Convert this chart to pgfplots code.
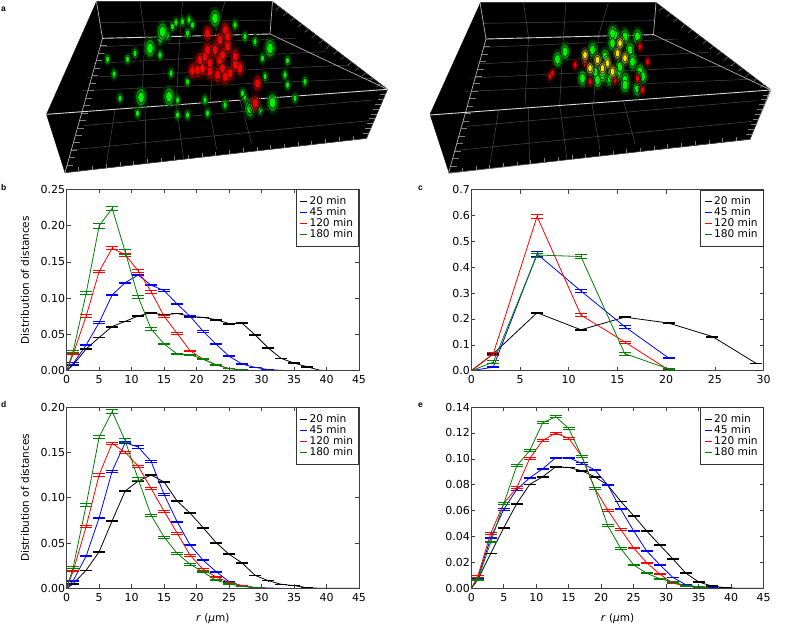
\documentclass[border=0pt]{standalone}
\usepackage{pgfplots}
\usepackage{pgfplotstable}
\usepackage{fontspec}
\setmainfont{DejaVu Sans}
\newfontfamily\letterfont{Liberation Sans}
\pgfplotsset{compat=1.18}

% panel a, in reference pixels times (2,3)
\pgfplotstableread{
x y
205 115
130 518
nan nan
193 5
205 115
nan nan
540 102
545 5
nan nan
540 102
775 268
}\edges
\pgfplotstableread{
x y
93 343
775 268
nan nan
205 115
540 102
}\bright
\pgfplotstableread{
x y
167 377
745 300
nan nan
140 450
738 362
nan nan
200 140
590 115
nan nan
187 190
650 155
nan nan
175 232
700 195
nan nan
165 272
745 235
nan nan
199 68
542 60
nan nan
230 330
213 490
nan nan
290 320
292 488
nan nan
353 320
367 475
nan nan
417 310
433 448
nan nan
480 300
503 430
nan nan
290 110
283 315
nan nan
360 105
352 320
nan nan
430 105
420 310
nan nan
280 5
290 110
nan nan
365 5
360 105
nan nan
450 5
430 105
nan nan
545 5
775 268
nan nan
130 518
733 415
nan nan
733 415
775 268
}\gridl
\pgfplotstableread[row sep=\\]{
x y\\ 201 137\\ 197 160\\ 192 182\\ 188 205\\ 184 227\\ 180 249\\ 176 272\\ 172 294\\ 167 317\\ 163 339\\ 159 361\\ 155 384\\ 151 406\\ 147 428\\ 142 451\\ 138 473\\ 134 496\\
}\ticksleft
\pgfplotstableread[row sep=\\]{
x y\\ 157 513\\ 185 509\\ 212 504\\ 240 499\\ 267 495\\ 294 490\\ 322 485\\ 349 481\\ 377 476\\ 404 471\\ 431 467\\ 459 462\\ 486 457\\ 514 453\\ 541 448\\ 568 443\\ 596 438\\ 623 434\\ 651 429\\ 678 424\\ 706 420\\
}\ticksbottom
\pgfplotstableread[row sep=\\]{
x y\\ 771 283\\ 767 297\\ 762 312\\ 758 327\\ 754 342\\ 750 356\\ 746 371\\ 741 386\\ 737 400\\
}\ticksright
\pgfplotstableread[row sep=\\]{
x y\\ 559 21\\ 574 38\\ 588 54\\ 603 71\\ 617 87\\ 631 104\\ 646 120\\ 660 136\\ 675 153\\ 689 169\\ 703 186\\ 718 202\\ 732 218\\ 746 235\\ 761 251\\
}\tickstop
\pgfplotstableread{
x y
365 65
345 80
375 100
385 75
352 68
378 60
300 145
320 120
335 108
255 178
215 178
228 222
342 220
355 345
520 330
575 182
610 245
590 295
525 175
510 125
490 110
450 315
415 340
375 345
275 340
240 295
485 280
530 230
570 225
575 255
375 245
270 160
320 165
490 295
410 300
355 300
470 75
}\leftgreen
\pgfplotstableread{
x y
282 292
338 290
500 325
545 308
300 145
325 95
540 145
430 55
}\leftbig
\pgfplotstableread{
x y
415 100
450 90
440 120
455 110
455 140
410 170
430 150
470 170
395 210
420 190
445 205
480 205
460 220
400 180
440 180
420 215
450 230
415 150
445 165
385 212
405 205
435 225
470 195
515 250
510 310
}\leftred
\pgfplotstableread{
x y
1230 105
1250 110
1275 110
1130 155
1225 130
1210 170
1260 150
1240 200
1190 215
1165 235
1220 235
1250 240
1280 215
1275 265
1250 255
1195 240
1285 230
1115 178
1265 185
1235 225
1205 225
1185 150
1225 100
}\rightgreen
\pgfplotstableread{
x y
1100 228
1150 195
1180 245
1295 185
1280 140
1230 240
1170 190
1105 220
1285 270
1275 235
}\rightred
\pgfplotstableread{
x y
1235 160
1215 190
1180 205
1205 205
1250 175
1225 215
1240 130
1170 165
1195 180
}\rightyellow

\newcommand\blobs[4]{%
  \addplot[only marks, mark=*, mark size=#3, mark options={draw=none, fill=#2, fill opacity=#4, yscale=1.7}] table {#1};}
\newcommand\softblobs[3]{%
  \blobs{#1}{#2!50!black}{#3*1.45}{0.3}
  \blobs{#1}{#2!80!black}{#3*1.05}{0.55}
  \blobs{#1}{#2}{#3*0.65}{0.9}
}

\pgfplotsset{
  panel/.style={
    scale only axis, width=292.3pt, height=181.2pt, axis on top,
    axis line style={draw=black!75, line width=0.8pt},
    tick style={draw=black!75, line width=0.6pt},
    major tick length=4pt, tick align=inside,
    xmin=0, xmax=45, xtick={0,5,...,45},
    ymin=0,
    tick label style={font=\fontsize{11}{12}\selectfont},
    y tick label style={xshift=2pt},
    x tick label style={yshift=-1.5pt},
    label style={font=\fontsize{10.5}{12}\selectfont},
    /pgf/number format/assume math mode=true,
    scaled ticks=false,
    ylabel style={at={(axis description cs:-0.143,0.5)}, anchor=center},
    xlabel style={at={(axis description cs:0.5,-0.165)}, anchor=center},
    legend style={at={(1,1)}, anchor=north east, draw=black!80, line width=0.8pt,
      font=\fontsize{10.6}{11}\selectfont, cells={anchor=west},
      row sep=-2.6pt, inner xsep=3.5pt, inner ysep=5pt},
    legend image code/.code={\draw[##1, line width=0.8pt] (0pt,0pt) -- (7pt,0pt);},
    legend entries={20 min,45 min,120 min,180 min},
  },
  twodec/.style={yticklabel style={/pgf/number format/fixed, /pgf/number format/precision=2, /pgf/number format/fixed zerofill}},
  ser/.style={#1, line width=0.8pt, mark=none,
    error bars/.cd, y dir=both, y explicit,
    error mark options={#1, rotate=90, mark size=6pt, line width=0.8pt},
    error bar style={#1, line width=0.5pt}},
}
\definecolor{mplgreen}{rgb}{0,0.5,0}

\begin{document}
\begin{tikzpicture}[x=1pt,y=1pt]
\path[use as bounding box] (0,0) rectangle (787,624);

\begin{axis}[at={(0,0)}, anchor=south west, scale only axis, width=787pt, height=624pt,
  axis lines=none, xmin=0, xmax=1574, ymin=0, ymax=1872, y dir=reverse, clip=false,
  unbounded coords=jump, legend entries={}]
\addplot[fill=black, draw=black] coordinates {(193,5) (545,5) (775,268) (733,415) (130,518) (93,343)} -- cycle;
\addplot[fill=black, draw=black] coordinates {(961,8) (1312,8) (1540,268) (1500,418) (898,518) (860,343)} -- cycle;
\addplot[white!30!black, line width=0.5pt] table {\gridl};
\addplot[white!30!black, line width=0.5pt] table[x expr=\thisrowno{0}+767, y expr=\thisrowno{1}+2] {\gridl};
\addplot[quiver={u=12,v=0}, draw=white!50!black, line width=0.4pt] table {\ticksleft};
\addplot[quiver={u=12,v=0}, draw=white!50!black, line width=0.4pt] table[x expr=\thisrowno{0}+767, y expr=\thisrowno{1}+2] {\ticksleft};
\addplot[quiver={u=0,v=-12}, draw=white!50!black, line width=0.4pt] table {\ticksbottom};
\addplot[quiver={u=0,v=-12}, draw=white!50!black, line width=0.4pt] table[x expr=\thisrowno{0}+767, y expr=\thisrowno{1}+2] {\ticksbottom};
\addplot[quiver={u=-12,v=0}, draw=white!50!black, line width=0.4pt] table {\ticksright};
\addplot[quiver={u=-12,v=0}, draw=white!50!black, line width=0.4pt] table[x expr=\thisrowno{0}+767, y expr=\thisrowno{1}+2] {\ticksright};
\addplot[quiver={u=-8,v=10}, draw=white!50!black, line width=0.4pt] table {\tickstop};
\addplot[quiver={u=-8,v=10}, draw=white!50!black, line width=0.4pt] table[x expr=\thisrowno{0}+767, y expr=\thisrowno{1}+2] {\tickstop};
\addplot[white!70!black, line width=0.7pt] table {\edges};
\addplot[white!70!black, line width=0.7pt] table[x expr=\thisrowno{0}+767, y expr=\thisrowno{1}+2] {\edges};
\addplot[white!85!black, line width=0.9pt] table {\bright};
\addplot[white!85!black, line width=0.9pt] table[x expr=\thisrowno{0}+767, y expr=\thisrowno{1}+2] {\bright};
\softblobs{\leftgreen}{green}{3}
\softblobs{\leftbig}{green}{5}
\softblobs{\leftred}{red}{4.4}
\softblobs{\rightgreen}{green}{4.4}
\softblobs{\rightred}{red}{3}
\softblobs{\rightyellow}{yellow}{3.4}
\end{axis}

% panel b
\begin{axis}[panel, twodec, at={(66.7pt,253.3pt)}, anchor=south west, ymax=0.25,
  ytick={0,0.05,...,0.25}, ylabel={Distribution of distances}]
\addplot[ser=black] table[y error index=2] {
0 0 0
1 0.008 0.0004
3 0.030 0.0006
5 0.046 0.0006
7 0.061 0.0006
9 0.068 0.0006
11 0.0755 0.0006
13 0.080 0.0006
15 0.077 0.0006
17 0.079 0.0006
19 0.075 0.0006
21 0.0735 0.0006
23 0.0705 0.0006
25 0.065 0.0006
27 0.0655 0.0006
29 0.0495 0.0006
31 0.0315 0.0005
33 0.017 0.0004
35 0.0105 0.0004
37 0.0055 0.0003
39 0.0005 0.0002
41 0 0
43 0 0
45 0 0
};
\addplot[ser=blue] table[y error index=2] {
0 0 0
1 0.010 0.0008
3 0.0355 0.001
5 0.0665 0.001
7 0.1045 0.001
9 0.1215 0.001
11 0.132 0.001
13 0.118 0.001
15 0.1105 0.001
17 0.092 0.001
19 0.075 0.001
21 0.0545 0.001
23 0.0365 0.0008
25 0.020 0.0006
27 0.0092 0.0004
29 0.0046 0.0003
31 0.0015 0.0002
33 0.0005 0.0001
35 0 0
};
\addplot[ser=red] table[y error index=2] {
0 0 0
1 0.023 0.001
3 0.0755 0.0015
5 0.137 0.002
7 0.169 0.002
9 0.160 0.002
11 0.138 0.002
13 0.109 0.002
15 0.075 0.0015
17 0.0515 0.0015
19 0.0275 0.001
21 0.016 0.0005
23 0.008 0.0004
25 0.003 0.0003
27 0.001 0.0002
};
\addplot[ser=mplgreen] table[y error index=2] {
0 0 0
1 0.027 0.0015
3 0.107 0.002
5 0.200 0.003
7 0.224 0.003
9 0.164 0.003
11 0.102 0.002
13 0.0575 0.002
15 0.037 0.001
17 0.023 0.001
19 0.022 0.001
21 0.016 0.0008
23 0.008 0.0005
25 0.003 0.0003
27 0.001 0.0002
29 0 0
};
\end{axis}

% panel c
\begin{axis}[panel, at={(471.3pt,253.3pt)}, anchor=south west, xmax=30, xtick={0,5,...,30},
  ymax=0.7, ytick={0,0.1,...,0.7},
  yticklabel style={/pgf/number format/fixed, /pgf/number format/precision=1, /pgf/number format/fixed zerofill}]
\addplot[ser=black] table[y error index=2] {
0 0 0
2.25 0.065 0.002
6.75 0.224 0.003
11.25 0.158 0.002
15.75 0.207 0.002
20.25 0.184 0.002
24.75 0.132 0.002
29.25 0.028 0.001
};
\addplot[ser=blue] table[y error index=2] {
0 0 0
2.25 0.014 0.003
6.75 0.451 0.008
11.25 0.308 0.006
15.75 0.170 0.005
20.25 0.049 0.003
};
\addplot[ser=red] table[y error index=2] {
0 0 0
2.25 0.065 0.006
6.75 0.596 0.008
11.25 0.215 0.005
15.75 0.111 0.004
20.25 0.003 0.001
};
\addplot[ser=mplgreen] table[y error index=2] {
0 0 0
2.25 0.033 0.006
6.75 0.447 0.008
11.25 0.441 0.009
15.75 0.066 0.005
20.25 0.007 0.002
};
\end{axis}

% panel d
\begin{axis}[panel, twodec, at={(66.7pt,35.7pt)}, anchor=south west, ymax=0.20,
  ytick={0,0.05,...,0.20}, ylabel={Distribution of distances},
  xlabel={\textit{r} (\textit{\symbol{"03BC}}m)}]
\addplot[ser=black] table[y error index=2] {
0 0 0
1 0.005 0.0003
3 0.020 0.0003
5 0.0404 0.0004
7 0.0746 0.0005
9 0.1074 0.0006
11 0.1184 0.0007
13 0.125 0.0007
15 0.1173 0.0007
17 0.0963 0.0007
19 0.083 0.0007
21 0.067 0.0006
23 0.0504 0.0005
25 0.0375 0.0005
27 0.028 0.0004
29 0.0143 0.0004
31 0.0085 0.0003
33 0.0044 0.0002
35 0.003 0.0002
37 0.0007 0.0001
39 0 0
45 0 0
};
\addplot[ser=blue] table[y error index=2] {
0 0 0
1 0.0085 0.0005
3 0.0357 0.0006
5 0.078 0.0007
7 0.1294 0.001
9 0.1607 0.0012
11 0.156 0.0012
13 0.140 0.0012
15 0.1033 0.001
17 0.0735 0.0008
19 0.0478 0.0007
21 0.031 0.0006
23 0.0184 0.0005
25 0.0074 0.0004
27 0.0026 0.0002
29 0.001 0.0001
31 0.0003 0.0001
33 0 0
};
\addplot[ser=red] table[y error index=2] {
0 0 0
1 0.019 0.0008
3 0.0684 0.0013
5 0.1254 0.0015
7 0.160 0.0015
9 0.150 0.0012
11 0.135 0.0012
13 0.110 0.0012
15 0.085 0.0012
17 0.061 0.0012
19 0.0364 0.001
21 0.021 0.0007
23 0.0125 0.0006
25 0.0066 0.0004
27 0.003 0.0002
29 0.0007 0.0001
31 0 0
};
\addplot[ser=mplgreen] table[y error index=2] {
0 0 0
1 0.0232 0.001
3 0.092 0.0015
5 0.167 0.002
7 0.195 0.002
9 0.163 0.002
11 0.1205 0.0015
13 0.0805 0.0012
15 0.0566 0.001
17 0.0386 0.001
19 0.0265 0.0008
21 0.018 0.0006
23 0.0088 0.0005
25 0.005 0.0003
27 0.002 0.0002
29 0.0007 0.0001
31 0 0
};
\end{axis}

% panel e
\begin{axis}[panel, twodec, at={(471.3pt,35.7pt)}, anchor=south west, ymax=0.14,
  ytick={0,0.02,...,0.14}, xlabel={\textit{r} (\textit{\symbol{"03BC}}m)}]
\addplot[ser=black] table[y error index=2] {
0 0 0
1 0.0067 0.0002
3 0.027 0.0003
5 0.0468 0.0003
7 0.0654 0.0003
9 0.0803 0.0003
11 0.0862 0.0003
13 0.0939 0.0003
15 0.0934 0.0003
17 0.0908 0.0003
19 0.0862 0.0003
21 0.0798 0.0003
23 0.0672 0.0003
25 0.0561 0.0003
27 0.0443 0.0003
29 0.0335 0.0003
31 0.0229 0.0002
33 0.0118 0.0002
35 0.0049 0.0002
37 0.0018 0.0001
39 0.0005 0.0001
41 0 0
45 0 0
};
\addplot[ser=blue] table[y error index=2] {
0 0 0
1 0.008 0.0003
3 0.039 0.0004
5 0.061 0.0005
7 0.0764 0.0005
9 0.0854 0.0005
11 0.0924 0.0005
13 0.1009 0.0005
15 0.1009 0.0005
17 0.0965 0.0005
19 0.0916 0.0005
21 0.0798 0.0005
23 0.0612 0.0004
25 0.0443 0.0004
27 0.0288 0.0004
29 0.0183 0.0003
31 0.0085 0.0003
33 0.0028 0.0002
35 0.001 0.0001
37 0.0003 0.0001
39 0 0
};
\addplot[ser=red] table[y error index=2] {
0 0 0
1 0.0093 0.0005
3 0.0427 0.0007
5 0.0656 0.0008
7 0.0777 0.0008
9 0.1004 0.0008
11 0.1143 0.0008
13 0.120 0.0008
15 0.1158 0.0008
17 0.102 0.0008
19 0.0772 0.0007
21 0.0605 0.0007
23 0.0455 0.0006
25 0.0311 0.0006
27 0.0198 0.0004
29 0.011 0.0004
31 0.004 0.0003
33 0.0018 0.0002
35 0.0005 0.0001
37 0 0
};
\addplot[ser=mplgreen] table[y error index=2] {
0 0 0
1 0.0067 0.0004
3 0.0358 0.0006
5 0.0654 0.0008
7 0.0947 0.0008
9 0.1065 0.0008
11 0.128 0.0008
13 0.1325 0.0008
15 0.1235 0.0008
17 0.102 0.0007
19 0.0772 0.0007
21 0.0484 0.0006
23 0.0309 0.0005
25 0.018 0.0004
27 0.0116 0.0003
29 0.0075 0.0003
31 0.005 0.0002
33 0.002 0.0002
35 0.001 0.0001
37 0 0
};
\end{axis}

\node[anchor=base west, inner sep=0pt, font=\letterfont\bfseries\fontsize{8.5}{9}\selectfont] at (1,612) {a};
\node[anchor=base west, inner sep=0pt, font=\letterfont\bfseries\fontsize{8.5}{9}\selectfont] at (1,433) {b};
\node[anchor=base west, inner sep=0pt, font=\letterfont\bfseries\fontsize{8.5}{9}\selectfont] at (418,433) {c};
\node[anchor=base west, inner sep=0pt, font=\letterfont\bfseries\fontsize{8.5}{9}\selectfont] at (1,216) {d};
\node[anchor=base west, inner sep=0pt, font=\letterfont\bfseries\fontsize{8.5}{9}\selectfont] at (418,216) {e};
\end{tikzpicture}
\end{document}
